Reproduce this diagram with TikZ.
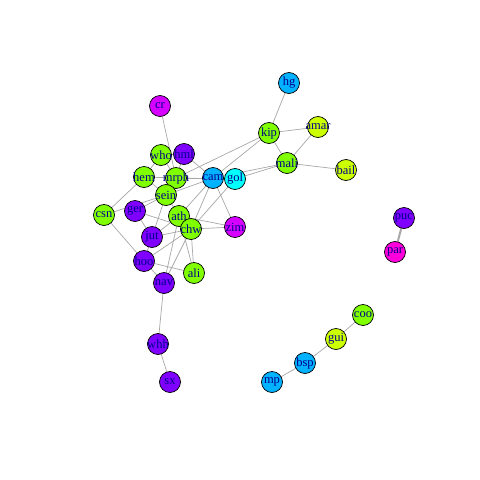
\documentclass[tikz,border=0pt]{standalone}
\usepackage{fontspec}
\setmainfont{Liberation Serif}
\usetikzlibrary{backgrounds}
\definecolor{cgreen}{HTML}{80FF00}
\definecolor{cpurple}{HTML}{8000FF}
\definecolor{cblue}{HTML}{00B2FF}
\definecolor{ccyan}{HTML}{00FFFF}
\definecolor{cmag}{HTML}{D500FF}
\definecolor{cpink}{HTML}{FF00DD}
\definecolor{cyel}{HTML}{CCFF00}
\definecolor{lab}{HTML}{00008B}
\definecolor{edgec}{HTML}{A8A8A8}
\begin{document}
\begin{tikzpicture}[x=1pt,y=-1pt,
  vtx/.style={circle,draw=black,line width=0.7pt,minimum size=21pt,inner sep=0pt,text=lab,font=\fontsize{12.5}{12.5}\selectfont},
  edg/.style={draw=edgec,line width=0.7pt},
  heavy/.style={draw=edgec,line width=2pt}]
\useasboundingbox (0,0) rectangle (480,480);
% nodes
\node[vtx,fill=cmag] (cr) at (160,106) {\makebox[0pt]{cr}};
\node[vtx,fill=cblue] (hg) at (289,83) {\makebox[0pt]{hg}};
\node[vtx,fill=cgreen] (kip) at (269,133) {\makebox[0pt]{kip}};
\node[vtx,fill=cyel] (amar) at (318,127) {\makebox[0pt]{amar}};
\node[vtx,fill=cgreen] (mali) at (287,163) {\makebox[0pt]{mali}};
\node[vtx,fill=cyel] (bail) at (346,170) {\makebox[0pt]{bail}};
\node[vtx,fill=cgreen] (who) at (161,155) {\makebox[0pt]{who}};
\node[vtx,fill=cpurple] (hml) at (184,154) {\makebox[0pt]{hml}};
\node[vtx,fill=cgreen] (hem) at (144,177) {\makebox[0pt]{hem}};
\node[vtx,fill=cgreen] (mrph) at (176,178) {\makebox[0pt]{mrph}};
\node[vtx,fill=cblue] (cam) at (213,178) {\makebox[0pt]{cam}};
\node[vtx,fill=ccyan] (gol) at (235,179) {\makebox[0pt]{gol}};
\node[vtx,fill=cgreen] (sein) at (166,195) {\makebox[0pt]{sein}};
\node[vtx,fill=cgreen] (csn) at (104,215) {\makebox[0pt]{csn}};
\node[vtx,fill=cpurple] (ger) at (135,211) {\makebox[0pt]{ger}};
\node[vtx,fill=cgreen] (ath) at (179,216) {\makebox[0pt]{ath}};
\node[vtx,fill=cgreen] (chw) at (191,229) {\makebox[0pt]{chw}};
\node[vtx,fill=cmag] (zim) at (235,227) {\makebox[0pt]{zim}};
\node[vtx,fill=cpurple] (jut) at (152,237) {\makebox[0pt]{jut}};
\node[vtx,fill=cpurple] (hoo) at (144,261) {\makebox[0pt]{hoo}};
\node[vtx,fill=cgreen] (ali) at (194,273) {\makebox[0pt]{ali}};
\node[vtx,fill=cpurple] (nav) at (164,283) {\makebox[0pt]{nav}};
\node[vtx,fill=cpurple] (whh) at (158,344) {\makebox[0pt]{whh}};
\node[vtx,fill=cpurple] (sx) at (170,382) {\makebox[0pt]{sx}};
\node[vtx,fill=cpurple] (puc) at (404,218) {\makebox[0pt]{puc}};
\node[vtx,fill=cpink] (par) at (395,252) {\makebox[0pt]{par}};
\node[vtx,fill=cgreen] (coo) at (363,315) {\makebox[0pt]{coo}};
\node[vtx,fill=cyel] (gui) at (336,339) {\makebox[0pt]{gui}};
\node[vtx,fill=cblue] (bsp) at (305,363) {\makebox[0pt]{bsp}};
\node[vtx,fill=cblue] (mp) at (272,382) {\makebox[0pt]{mp}};
% edges
\begin{scope}[on background layer]
\fill[white] (0,0) rectangle (480,480);
\foreach \a/\b in {hg/kip,kip/amar,kip/mali,amar/mali,mali/bail,
  kip/cam,kip/mrph,mali/gol,mali/cam,cr/mrph,
  who/hml,who/mrph,who/hem,hem/mrph,hem/sein,hem/csn,hml/mrph,hml/cam,
  mrph/cam,mrph/sein,mrph/gol,cam/gol,cam/sein,cam/ath,cam/chw,cam/zim,
  gol/chw,sein/ger,sein/ath,sein/jut,sein/csn,ger/chw,ger/jut,csn/hoo,
  jut/chw,jut/ath,jut/hoo,hoo/chw,hoo/nav,hoo/ali,nav/ath,nav/chw,
  chw/ali,ath/ali,chw/zim,ath/zim,nav/whh,whh/sx,
  coo/gui,gui/bsp,bsp/mp}
  \draw[edg] (\a.center) -- (\b.center);
\draw[heavy] (puc.center) -- (par.center);
\end{scope}
\end{tikzpicture}
\end{document}
